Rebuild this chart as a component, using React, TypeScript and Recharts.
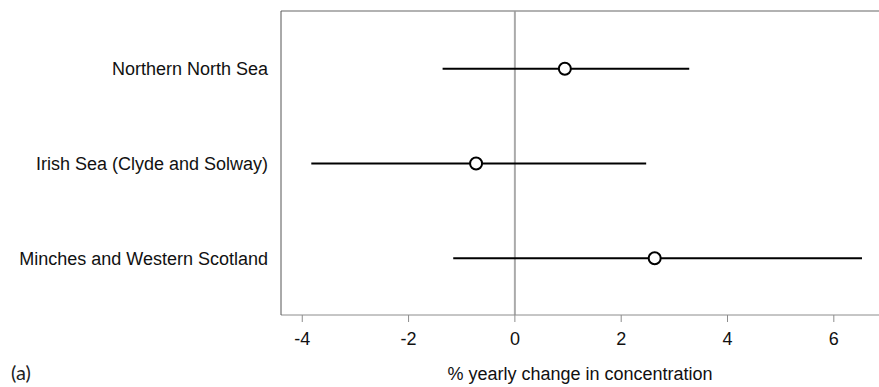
import {
  ScatterChart, Scatter, XAxis, YAxis, ErrorBar, ReferenceLine, Label,
} from 'recharts';

// regions, top to bottom
const regions = ['Northern North Sea', 'Irish Sea (Clyde and Solway)', 'Minches and Western Scotland'];
const estimates = [0.94, -0.73, 2.63];
const lowerCI = [-1.36, -3.83, -1.16];
const upperCI = [3.28, 2.47, 6.53];
const xTicks = [-4, -2, 0, 2, 4, 6];

const rows = regions.map((name, i) => ({
  name,
  row: i + 1,
  est: estimates[i],
  err: [estimates[i] - lowerCI[i], upperCI[i] - estimates[i]],
}));

const FONT = '"Liberation Sans", Arial, sans-serif';

// open circle marker
const OpenCircle = (props: any) => {
  const { cx, cy } = props;
  return <circle cx={cx} cy={cy} r={6} fill="#fff" stroke="#000" strokeWidth={2} />;
};

export default function App() {
  return (
    <div style={{ position: 'absolute', left: 0, top: 0, width: 879, height: 387, background: '#fff', fontFamily: FONT }}>
      <ScatterChart width={879} height={387} margin={{ top: 11, right: 0, bottom: 12, left: 0 }}>
        <XAxis
          type="number"
          dataKey="est"
          domain={[-4.4, 6.85]}
          ticks={xTicks}
          allowDataOverflow
          height={60}
          stroke="#8c8c8c"
          tickSize={7}
          tickMargin={10}
          tick={{ fill: '#111', fontSize: 18, fontFamily: FONT }}
        >
          <Label
            value="% yearly change in concentration"
            position="insideBottom"
            offset={-5}
            style={{ fill: '#111', fontSize: 18, fontFamily: FONT }}
          />
        </XAxis>
        <YAxis
          type="number"
          dataKey="row"
          domain={[0.39, 3.6]}
          reversed
          ticks={[1, 2, 3]}
          tickFormatter={(v: number) => regions[v - 1]}
          width={281}
          stroke="#555"
          tickLine={false}
          tickSize={6}
          tickMargin={7}
          tick={{ fill: '#111', fontSize: 18, fontFamily: FONT }}
        />
        <ReferenceLine x={0} stroke="#aaa" strokeWidth={2} />
        <ReferenceLine y={0.39} stroke="#999" strokeWidth={1.5} />
        <Scatter data={rows} shape={OpenCircle} isAnimationActive={false}>
          <ErrorBar dataKey="err" direction="x" width={0} stroke="#000" strokeWidth={2} />
        </Scatter>
      </ScatterChart>
      <div style={{ position: 'absolute', left: 11, top: 360, fontSize: 20, fontFamily: 'Lato, sans-serif', color: '#222' }}>
        (a)
      </div>
    </div>
  );
}
